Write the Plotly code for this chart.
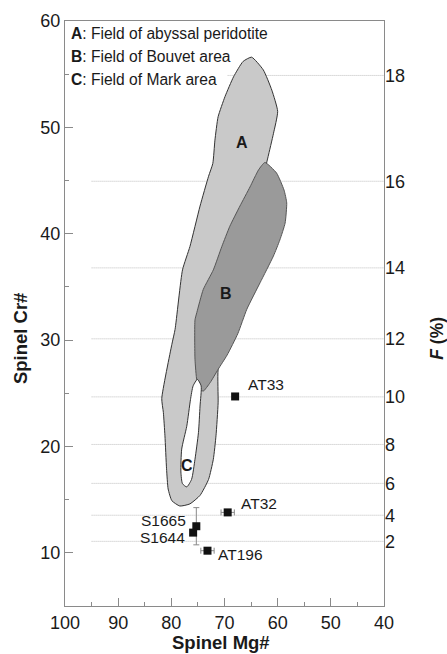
import math
import plotly.graph_objects as go

# ---------------- data ----------------
sample_names = ["AT33", "AT32", "S1665", "S1644", "AT196"]
sample_mg = [68.0, 69.4, 75.3, 75.9, 73.2]
sample_cr = [24.7, 13.8, 12.5, 11.9, 10.2]
sample_mg_err = [None, 1.25, None, None, 1.25]
sample_cr_err = [None, None, 1.75, None, None]

fieldA_mg = [64.9, 62.7, 61.1, 60.0, 60.8, 61.8, 62.1, 64.0, 69.0, 71.2, 71.2, 71.6, 72.1, 73.0,
             74.6, 76.5, 78.4, 79.9, 80.6, 80.9, 81.2, 81.5, 81.8, 79.9, 79.3, 77.9, 76.5, 74.6,
             73.0, 72.2, 71.8, 71.2, 69.9, 68.3, 66.5, 64.9]
fieldA_cr = [56.6, 55.4, 53.5, 51.5, 49.4, 47.25, 46.6, 40.0, 32.0, 27.25, 24.1, 21.0, 18.8, 16.9,
             15.4, 14.6, 14.4, 14.9, 16.0, 17.9, 21.0, 23.2, 24.5, 29.6, 31.0, 36.6, 38.8, 42.6,
             45.4, 46.6, 48.8, 51.0, 52.9, 54.75, 56.2, 56.6]

fieldB_mg = [62.4, 60.2, 58.8, 58.3, 58.6, 59.6, 60.8, 63.3, 65.8, 67.5, 69.5, 71.2, 72.7, 74.0,
             74.6, 75.2, 75.55, 75.55, 75.2, 74.0, 72.1, 70.5, 69.0, 67.1, 65.2, 63.6, 62.4]
fieldB_cr = [46.7, 45.7, 44.1, 42.9, 41.0, 39.4, 37.9, 35.4, 32.9, 30.6, 28.6, 27.25, 26.0, 25.2,
             25.4, 26.2, 28.2, 31.9, 32.6, 34.75, 36.6, 38.8, 40.7, 42.6, 44.4, 46.0, 46.7]

fieldC_mg = [75.1, 74.4, 74.6, 74.9, 75.55, 76.2, 77.1, 77.9, 78.2, 78.05, 77.1, 76.4, 75.9, 75.1]
fieldC_cr = [26.3, 25.7, 23.8, 21.3, 18.8, 16.9, 16.2, 16.5, 17.6, 19.75, 21.9, 24.4, 25.7, 26.3]

field_labels = ["A", "B", "C"]
field_label_mg = [66.8, 69.7, 77.1]
field_label_cr = [48.6, 34.4, 18.2]

legend_lines = ["<b>A</b>: Field of abyssal peridotite",
                "<b>B</b>: Field of Bouvet area",
                "<b>C</b>: Field of Mark area"]

x_ticks = [100, 90, 80, 70, 60, 50, 40]
x_minor = [95, 85, 75, 65, 55, 45]
y_ticks = [10, 20, 30, 40, 50, 60]
y_minor = [15, 25, 35, 45, 55]
F_ticks = [2, 4, 6, 8, 10, 12, 14, 16, 18]


def cr_from_F(F):
    # Hellebrand et al. (2001): F = 10 ln(Cr#) + 24
    return 100.0 * math.exp((F - 24.0) / 10.0)


F_pos = [cr_from_F(f) for f in F_ticks]

FONT = "Liberation Sans, Arial, Helvetica, sans-serif"
TXT = "#1a1a1a"
AX = "#8a8a8a"

fig = go.Figure()

line_col = "#333333"
fig.add_trace(go.Scatter(x=fieldA_mg, y=fieldA_cr, mode="lines", fill="toself",
                         fillcolor="#c9c9c9", line=dict(color=line_col, width=1, shape="spline", smoothing=0.5),
                         hoverinfo="skip", showlegend=False))
fig.add_trace(go.Scatter(x=fieldB_mg, y=fieldB_cr, mode="lines", fill="toself",
                         fillcolor="#9a9a9a", line=dict(color="#555555", width=1, shape="spline", smoothing=0.5),
                         hoverinfo="skip", showlegend=False))
fig.add_trace(go.Scatter(x=fieldC_mg, y=fieldC_cr, mode="lines", fill="toself",
                         fillcolor="#ffffff", line=dict(color=line_col, width=1, shape="spline", smoothing=0.6),
                         hoverinfo="skip", showlegend=False))

# error bars (separate traces so that only the measured errors are drawn)
ex_idx = [i for i, e in enumerate(sample_mg_err) if e is not None]
ey_idx = [i for i, e in enumerate(sample_cr_err) if e is not None]
fig.add_trace(go.Scatter(x=[sample_mg[i] for i in ex_idx], y=[sample_cr[i] for i in ex_idx],
                         mode="markers", marker=dict(size=1, color="rgba(0,0,0,0)"),
                         error_x=dict(type="data", array=[sample_mg_err[i] for i in ex_idx],
                                      color="#8a8a8a", thickness=1, width=3),
                         hoverinfo="skip", showlegend=False))
fig.add_trace(go.Scatter(x=[sample_mg[i] for i in ey_idx], y=[sample_cr[i] for i in ey_idx],
                         mode="markers", marker=dict(size=1, color="rgba(0,0,0,0)"),
                         error_y=dict(type="data", array=[sample_cr_err[i] for i in ey_idx],
                                      color="#8a8a8a", thickness=1, width=3),
                         hoverinfo="skip", showlegend=False))

fig.add_trace(go.Scatter(x=sample_mg, y=sample_cr, mode="markers",
                         marker=dict(symbol="square", size=8, color="#111111"),
                         text=sample_names, showlegend=False))

# dummy trace for right axis
fig.add_trace(go.Scatter(x=[None], y=[None], yaxis="y2", showlegend=False, hoverinfo="skip"))

shapes = []
for c in F_pos:
    shapes.append(dict(type="line", xref="x", yref="y", x0=95, x1=40, y0=c, y1=c,
                       line=dict(color="#bdbdbd", width=1, dash="1px,1px"), layer="below"))
shapes.append(dict(type="rect", xref="x", yref="y", x0=100, x1=69.5, y0=53.6, y1=60,
                   fillcolor="white", line=dict(width=0), layer="below"))

annotations = []
# point labels
label_pos = {
    "AT33": (65.9, 25.85, "left"),
    "AT32": (67.2, 14.6, "left"),
    "S1665": (76.8, 13.0, "right"),
    "S1644": (77.1, 11.4, "right"),
    "AT196": (71.6, 9.8, "left"),
}
for n in sample_names:
    lx, ly, anc = label_pos[n]
    annotations.append(dict(x=lx, y=ly, xref="x", yref="y", text=n, showarrow=False,
                            xanchor=anc, yanchor="middle", font=dict(family=FONT, size=15.5, color=TXT)))
for t, lx, ly in zip(field_labels, field_label_mg, field_label_cr):
    annotations.append(dict(x=lx, y=ly, xref="x", yref="y", text="<b>%s</b>" % t, showarrow=False,
                            xanchor="center", yanchor="middle", font=dict(family=FONT, size=16, color=TXT)))
for i, t in enumerate(legend_lines):
    annotations.append(dict(x=0.013, y=[0.979, 0.939, 0.900][i], xref="paper", yref="paper", text=t,
                            showarrow=False, xanchor="left", yanchor="middle",
                            font=dict(family=FONT, size=15.6, color=TXT)))
# axis titles
annotations.append(dict(x=-0.141, y=0.458, xref="paper", yref="paper", text="<b>Spinel Cr#</b>",
                        textangle=-90, showarrow=False, xanchor="center", yanchor="middle",
                        font=dict(family=FONT, size=18.5, color=TXT)))
annotations.append(dict(x=1.165, y=0.458, xref="paper", yref="paper", text="<b><i>F</i> (%)</b>",
                        textangle=-90, showarrow=False, xanchor="center", yanchor="middle",
                        font=dict(family=FONT, size=17.5, color=TXT)))
annotations.append(dict(x=0.489, y=-0.063, xref="paper", yref="paper", text="<b>Spinel Mg#</b>",
                        showarrow=False, xanchor="center", yanchor="middle",
                        font=dict(family=FONT, size=18.5, color=TXT)))

fig.update_layout(
    width=447, height=654,
    margin=dict(l=65, r=63, t=21, b=48),
    paper_bgcolor="white", plot_bgcolor="white",
    font=dict(family=FONT, size=18, color=TXT),
    xaxis=dict(range=[100, 40], tickvals=x_ticks, ticks="inside", ticklen=8, tickcolor=AX,
               showline=True, linecolor=AX, linewidth=1, mirror=True, showgrid=False, zeroline=False,
               tickfont=dict(size=18, color=TXT),
               minor=dict(tickvals=x_minor, ticks="inside", ticklen=4, tickcolor=AX)),
    yaxis=dict(range=[5, 60], tickvals=y_ticks, ticks="inside", ticklen=8, tickcolor=AX,
               showline=True, linecolor=AX, linewidth=1, mirror=True, showgrid=False, zeroline=False,
               tickfont=dict(size=18, color=TXT),
               minor=dict(tickvals=y_minor, ticks="inside", ticklen=4, tickcolor=AX)),
    yaxis2=dict(range=[5, 60], overlaying="y", side="right", tickvals=F_pos,
                ticktext=[str(f) for f in F_ticks], ticks="", showline=False, showgrid=False,
                zeroline=False, tickfont=dict(size=18, color=TXT)),
    shapes=shapes,
    annotations=annotations,
)

fig.write_html("out.html", config={"displayModeBar": False},
               post_script="document.body.style.margin='0';document.body.style.overflow='hidden';")
